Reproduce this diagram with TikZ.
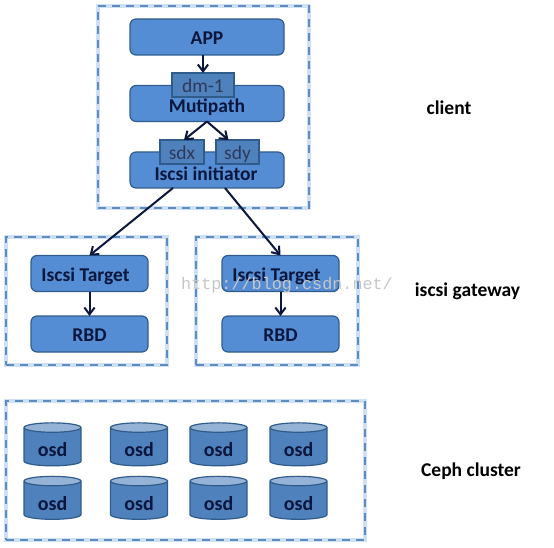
\documentclass[tikz,border=0pt]{standalone}
\usepackage{fontspec}
\setmainfont{Carlito}
\newfontfamily\markfont{Liberation Mono}
\usetikzlibrary{arrows.meta,shapes.geometric}
\definecolor{sky}{RGB}{85,141,213}
\definecolor{steel}{RGB}{48,92,140}
\definecolor{tabblue}{RGB}{79,129,189}
\definecolor{ink}{RGB}{10,22,60}
\definecolor{halo}{RGB}{205,224,244}
\definecolor{dashblue}{RGB}{95,140,190}
\tikzset{
  >={Straight Barb[length=2.4mm,width=3.6mm]},
  layerbox/.style={draw=halo,line width=4pt,fill=white,inner sep=0pt,outer sep=0pt,
    postaction={draw=dashblue,line width=1.8pt,dash pattern=on 8pt off 6pt}},
  box/.style={draw=steel,fill=sky,line width=1.2pt,rounded corners=6pt,inner sep=0pt,outer sep=0pt,
    minimum height=36pt,text=ink,text height=16pt,text depth=0.6pt,
    font=\fontsize{19.5}{21}\selectfont\bfseries,align=center},
  tab/.style={draw=steel,fill=tabblue,line width=1.2pt,inner sep=0pt,outer sep=0pt,
    minimum height=24pt,text=ink!85,text height=16pt,text depth=0pt,font=\fontsize{19.5}{21}\selectfont},
  flow/.style={->,line width=2pt,draw=ink},
  disk/.style={cylinder,shape border rotate=90,aspect=0.32,cylinder uses custom fill,
    cylinder body fill=tabblue,cylinder end fill=tabblue!60!white,draw=steel,line width=1.2pt,
    minimum width=57pt,minimum height=43pt,inner sep=0pt,outer sep=0pt,text=ink,text height=20pt,
    font=\fontsize{20}{21}\selectfont\bfseries},
  side/.style={font=\fontsize{19.5}{21}\selectfont\bfseries,text=black},
}
\begin{document}
\begin{tikzpicture}[x=1pt,y=-1pt]
  \useasboundingbox (0,0) rectangle (554,548);
  \node[layerbox,minimum width=211pt,minimum height=202pt] (client) at (203.5,107) {};
  \node[layerbox,minimum width=161pt,minimum height=128pt] (gwa) at (86.5,301) {};
  \node[layerbox,minimum width=162pt,minimum height=128pt] (gwb) at (277,301) {};
  \node[layerbox,minimum width=359pt,minimum height=139pt] (ceph) at (185.5,470.5) {};
  % client
  \node[box,minimum width=154pt] (app) at (207,37) {APP};
  \node[box,minimum width=154pt] (mutipath) at (207,103.5) {};
  \node[box,minimum width=154pt] (initiator) at (207,170) {};
  \node[tab,minimum width=62pt] (dm) at (203,85) {dm-1};
  \node[tab,minimum width=44pt] (sdx) at (182,152) {sdx};
  \node[tab,minimum width=43pt] (sdy) at (237.5,152) {sdy};
  \node[text=ink,font=\fontsize{19.5}{21}\selectfont\bfseries] (mutitext) at (207,107.5) {Mutipath};
  \node[text=ink,font=\fontsize{19.5}{21}\selectfont\bfseries] (inittext) at (206,173.5) {Iscsi initiator};
  \draw[flow] (app.south -| dm.north) -- (dm.north);
  \draw[flow] (mutipath.south) -- ([xshift=2pt]sdx.north);
  \draw[flow] (mutipath.south) -- ([xshift=-9pt]sdy.north);
  % gateways
  \node[box,minimum width=117pt] (targeta) at (89.5,273.5) {\hspace*{-8pt}Iscsi Target};
  \node[box,minimum width=117pt] (rbda) at (89.5,334) {RBD};
  \node[box,minimum width=117pt] (targetb) at (280.5,273.5) {\hspace*{-8pt}Iscsi Target};
  \node[box,minimum width=117pt] (rbdb) at (280.5,334) {RBD};
  \draw[flow] (targeta) -- (rbda);
  \draw[flow] (targetb) -- (rbdb);
  \draw[flow] ([xshift=-34pt]initiator.south) -- (targeta.north);
  \draw[flow] ([xshift=18pt]initiator.south) -- (targetb.north);
  % ceph
  \foreach \col/\x in {a/52.5,b/139,c/218.5,d/298.5}
    \foreach \row/\y in {a/447,b/500.5}
      \node[disk] (osd\col\row) at (\x,\y) {osd};
  \node[side] (clientlabel) at (449,108) {client};
  \node[side] (gwlabel) at (467.5,291) {iscsi gateway};
  \node[side] (cephlabel) at (471,471) {Ceph cluster};
  \node[text=black!22,font=\markfont\fontsize{16.8}{18}\selectfont] (mark) at (287,285) {http://blog.csdn.net/};
\end{tikzpicture}
\end{document}
